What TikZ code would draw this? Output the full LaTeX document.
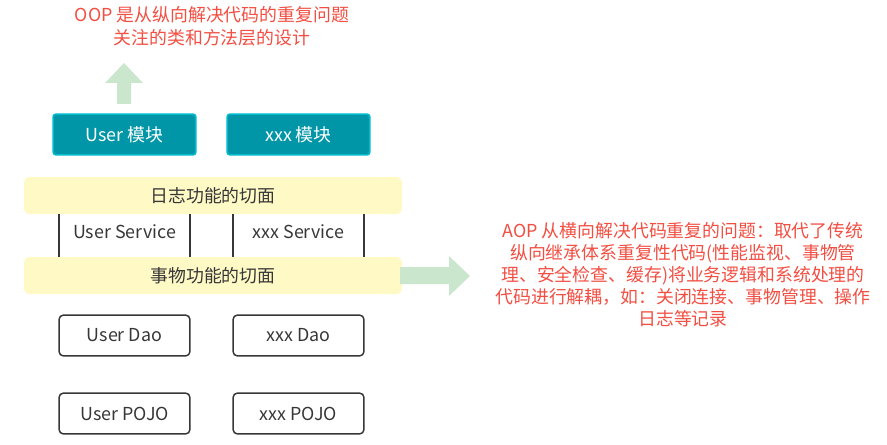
\documentclass[tikz,border=0pt]{standalone}
\usepackage{fontspec}
\setmainfont{Noto Sans CJK SC}
\usetikzlibrary{positioning}
\definecolor{noteRed}{RGB}{242,78,66}
\definecolor{modFill}{RGB}{0,150,167}
\definecolor{modLine}{RGB}{0,186,206}
\definecolor{aspFill}{RGB}{255,249,198}
\definecolor{txtGray}{RGB}{55,55,55}
\definecolor{arrGreen}{RGB}{202,231,206}
\begin{document}
\begin{tikzpicture}[x=0.75pt, y=-0.75pt,
    note/.style={text=noteRed, align=center, font=\fontsize{13.4}{17}\selectfont},
    modbox/.style={draw=modLine, fill=modFill, line width=1.2pt, rounded corners=2pt,
      minimum width=107pt, minimum height=30.5pt, text=white, font=\fontsize{13.4}{15}\selectfont},
    aspect/.style={fill=aspFill, rounded corners=4pt, minimum width=283.5pt, minimum height=28pt,
      text=txtGray, font=\fontsize{13.4}{15}\selectfont},
    layer/.style={draw=txtGray, line width=1.1pt, rounded corners=3pt, minimum width=98pt,
      minimum height=30.5pt, text=txtGray, font=\fontsize{13.4}{15}\selectfont},
    plain/.style={text=txtGray, font=\fontsize{13.4}{15}\selectfont}
  ]
    \useasboundingbox (0,0) rectangle (887,445);
    % top remark
    \node[note] (oop) at (212,26) {OOP 是从纵向解决代码的重复问题\\关注的类和方法层的设计};
    % modules
    \node[modbox] (umod) at (124.5,134.5) {User 模块};
    \node[modbox] (xmod) at (298.5,134.5) {xxx 模块};
    % up arrow
    \fill[arrGreen] (117,104) -- (117,83) -- (105,83) -- (124,63) -- (143,83) -- (131,83) -- (131,104) -- cycle;
    % aspects
    \node[aspect] (log) at (213,195.5) {日志功能的切面};
    \node[aspect] (tx) at (213,275.5) {事物功能的切面};
    % services
    \node[plain] (usvc) at (124.5,232) {User Service};
    \node[plain] (xsvc) at (298.5,232) {xxx Service};
    \foreach \px in {59,190,233,364}
      \draw[txtGray, line width=1.5pt] (\px,214) -- (\px,257);
    % right arrow
    \fill[arrGreen] (400,267) -- (449,267) -- (449,256) -- (470,276) -- (449,296) -- (449,284) -- (400,284) -- cycle;
    \node[note, font=\fontsize{13.4}{16.5}\selectfont] (aop) at (683,275) {AOP 从横向解决代码重复的问题：取代了传统\\纵向继承体系重复性代码(性能监视、事物管\\理、安全检查、缓存)将业务逻辑和系统处理的\\代码进行解耦，如：关闭连接、事物管理、操作\\日志等记录};
    % dao and pojo
    \node[layer] (udao) at (124.5,335.5) {User Dao};
    \node[layer] (xdao) at (298.5,335.5) {xxx Dao};
    \node[layer] (upojo) at (124.5,413.5) {User POJO};
    \node[layer] (xpojo) at (298.5,413.5) {xxx POJO};
\end{tikzpicture}
\end{document}
